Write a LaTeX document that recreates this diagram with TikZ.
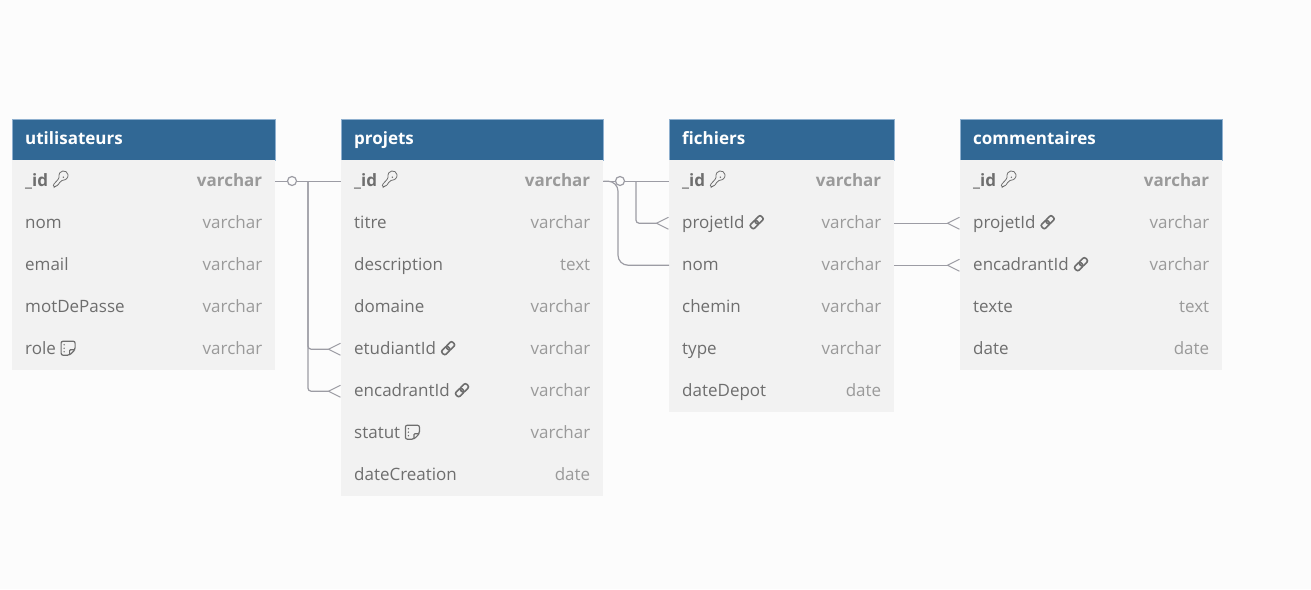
\documentclass[tikz,border=0pt]{standalone}
\usepackage{fontspec}
\setmainfont{Open Sans}
\usetikzlibrary{arrows.meta}
\definecolor{pagebg}{HTML}{FCFCFC}
\definecolor{headbg}{HTML}{316895}
\definecolor{headline}{HTML}{8FB0CF}
\definecolor{rowbg}{HTML}{F2F2F2}
\definecolor{fieldtx}{HTML}{6E6E6E}
\definecolor{typetx}{HTML}{9A9A9A}
\definecolor{relline}{HTML}{9C9CA4}
\tikzset{
  header/.style={draw=headline, line width=0.4pt, fill=headbg, text=white, anchor=north west, minimum height=41pt,
    inner sep=0pt, text height=13pt, text depth=3pt, font=\fontsize{17}{20}\selectfont\bfseries},
  rowbox/.style={fill=rowbg, anchor=north west, minimum height=42pt, inner sep=0pt},
  fieldname/.style={text=fieldtx, anchor=west, inner sep=0pt, text height=12pt, text depth=4pt, font=\fontsize{17}{20}\selectfont},
  typename/.style={text=typetx, anchor=east, inner sep=0pt, text height=12pt, text depth=4pt, font=\fontsize{17}{20}\selectfont},
  rel/.style={draw=relline, line width=1.2pt},
  crow/.style={-{Straight Barb[reversed, length=12pt, width=12pt, line width=1pt]}},
  zerodot/.style={circle, draw=relline, fill=pagebg, line width=1.2pt, minimum size=9pt, inner sep=0pt},
  noicon/.pic={},
  keyicon/.pic={
    \draw[fieldtx, line width=0.8pt, rounded corners=1pt] (-1.2,-4) arc (190:-100:4.5pt) -- (-1.5,3) -- (-2,5) -- (-4,5.5) -- (-5,6.5) -- (-7,6.5) -- (-7,4.5) -- (-1.6,-1.5) -- cycle;
    \fill[fieldtx] (3,-3) circle (0.8pt);
  },
  linkicon/.pic={
    \draw[fieldtx, line width=1.6pt, rounded corners=2pt, rotate=45] (-7.5,-2.8) rectangle (1,2.8);
    \draw[fieldtx, line width=1.6pt, rounded corners=2pt, rotate=45] (-1,-2.8) rectangle (7.5,2.8);
  },
  noteicon/.pic={
    \draw[fieldtx, line width=1.2pt, rounded corners=2pt] (1.5,7) -- (-7,7) -- (-7,-7) -- (7,-7) -- (7,1.5) -- cycle;
    \draw[fieldtx, line width=1.2pt, rounded corners=1pt] (1.5,7) -- (1.5,1.5) -- (7,1.5);
    \foreach \d in {-3.5,0,3.5} \fill[fieldtx] (-4,\d) circle (0.8pt);
  },
}
\newcommand{\dbrows}[3]{%
  \foreach \field/\ftype/\ficon [count=\i] in {#3} {
    \node[rowbox, minimum width=#2] (#1-\i) at (#1.south west |- 0,{160+42*(\i-1)}) {};
    \node[fieldname] (#1-\i-f) at ([xshift=13pt, yshift=-1pt]#1-\i.west) {\field};
    \node[typename] (#1-\i-t) at ([xshift=-13pt, yshift=-1pt]#1-\i.east) {\ftype};
    \pic at ([xshift=12pt, yshift=2pt]#1-\i-f.east) {\ficon};
  }
}
\begin{document}
\begin{tikzpicture}[x=1pt, y=-1pt]
  \useasboundingbox[fill=pagebg] (0,0) rectangle (1311,589);

  % utilisateurs
  \node[header, minimum width=263pt, text width=237pt] (utilisateurs) at (12,119) {utilisateurs};
  \dbrows{utilisateurs}{263pt}{\textbf{\_id}/\textbf{varchar}/keyicon, nom/varchar/noicon, email/varchar/noicon, motDePasse/varchar/noicon, role/varchar/noteicon}

  % projets
  \node[header, minimum width=262pt, text width=236pt] (projets) at (341,119) {projets};
  \dbrows{projets}{262pt}{\textbf{\_id}/\textbf{varchar}/keyicon, titre/varchar/noicon, description/text/noicon, domaine/varchar/noicon, etudiantId/varchar/linkicon, encadrantId/varchar/linkicon, statut/varchar/noteicon, dateCreation/date/noicon}

  % fichiers
  \node[header, minimum width=225pt, text width=199pt] (fichiers) at (669,119) {fichiers};
  \dbrows{fichiers}{225pt}{\textbf{\_id}/\textbf{varchar}/keyicon, projetId/varchar/linkicon, nom/varchar/noicon, chemin/varchar/noicon, type/varchar/noicon, dateDepot/date/noicon}

  % commentaires
  \node[header, minimum width=262pt, text width=236pt] (commentaires) at (960,119) {commentaires};
  \dbrows{commentaires}{262pt}{\textbf{\_id}/\textbf{varchar}/keyicon, projetId/varchar/linkicon, encadrantId/varchar/linkicon, texte/text/noicon, date/date/noicon}

  % relations
  \coordinate (ubranch) at (308,181);
  \coordinate (pbranch) at (636,181);
  \coordinate (pcurve) at (618,181);
  \draw[rel] (utilisateurs-1.east) -- (projets-1.west);
  \draw[rel, crow, rounded corners=3pt] (ubranch) |- (projets-5.west);
  \draw[rel, crow, rounded corners=3pt] (ubranch) |- (projets-6.west);
  \node[zerodot] (udot) at (292,181) {};

  \draw[rel] (projets-1.east) -- (fichiers-1.west);
  \draw[rel, crow, rounded corners=3pt] (pbranch) |- (fichiers-2.west);
  \draw[rel, rounded corners=10pt] (projets-1.east) -| (pcurve |- fichiers-3.west) -- (fichiers-3.west);
  \node[zerodot] (pdot) at (620,181) {};

  \draw[rel, crow] (fichiers-2.east) -- (commentaires-2.west);
  \draw[rel, crow] (fichiers-3.east) -- (commentaires-3.west);
\end{tikzpicture}
\end{document}
